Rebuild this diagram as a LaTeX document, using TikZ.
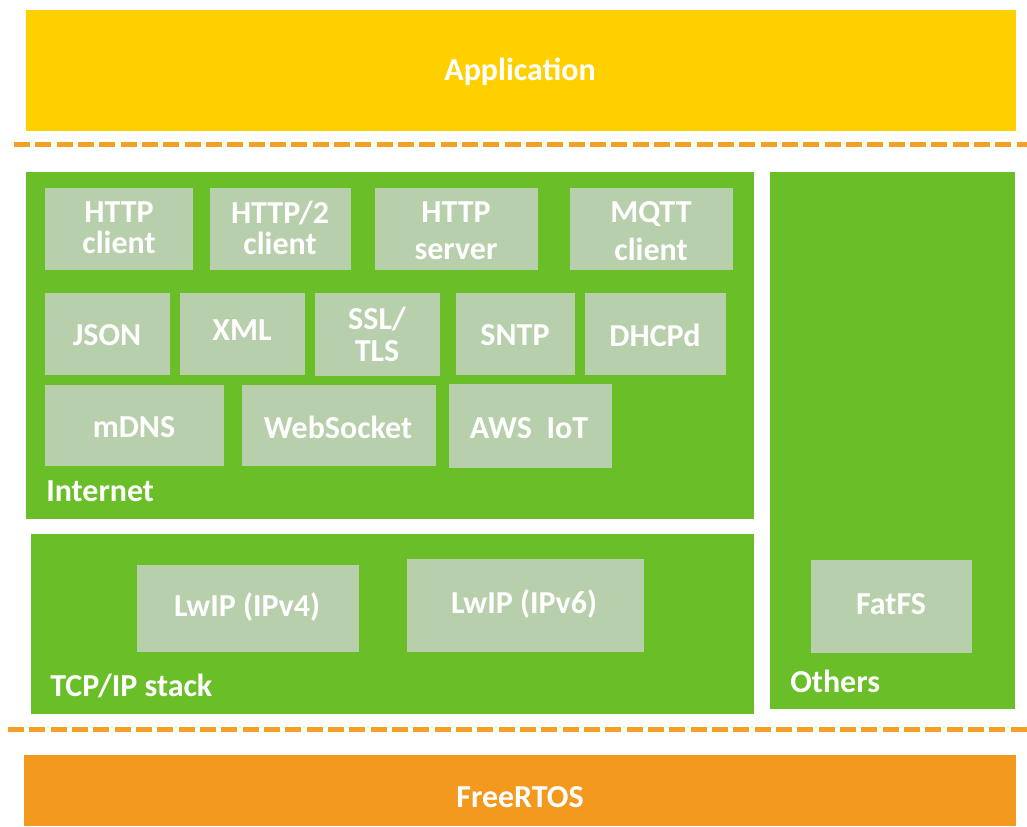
\documentclass[tikz,border=0pt]{standalone}
\usepackage{fontspec}
\setmainfont{Carlito}
\definecolor{appyellow}{RGB}{255,208,0}
\definecolor{rtosorange}{RGB}{243,154,30}
\definecolor{dashorange}{RGB}{244,160,36}
\definecolor{layergreen}{RGB}{106,190,40}
\definecolor{modgreen}{RGB}{184,207,172}

\begin{document}
\begin{tikzpicture}[x=0.75pt,y=0.75pt,yscale=-1,xscale=1,
  lbl/.style={text=white,font=\fontsize{24}{23}\selectfont\bfseries,align=center,inner sep=0pt},
  modbox/.style={fill=modgreen,draw=none},
  layer/.style={fill=layergreen,draw=none},
  sep/.style={dashorange,line width=3.75pt,dash pattern=on 12pt off 4pt}]
\useasboundingbox (0,0) rectangle (1027,826);

%Shape: Rectangle
\fill [appyellow] (26,10) rectangle (1016,131);
%Shape: Rectangle
\fill [rtosorange] (24,755) rectangle (1016,826);

%Straight Lines
\draw [sep] (14,144) -- (1027,144);
%Straight Lines
\draw [sep] (8,729) -- (1027,729);

%Shape: Rectangle
\path [layer] (26,172) rectangle (754,519);
%Shape: Rectangle
\path [layer] (31,534) rectangle (754,714);
%Shape: Rectangle
\path [layer] (770,172) rectangle (1015,709);

%Shape: Rectangle
\path [modbox] (45,188) rectangle (193,270);
\path [modbox] (210,188) rectangle (351,270);
\path [modbox] (375,188) rectangle (538,270);
\path [modbox] (570,188) rectangle (733,270);
\path [modbox] (45,293) rectangle (170,375);
\path [modbox] (180,293) rectangle (305,375);
\path [modbox] (315,293) rectangle (440,376);
\path [modbox] (456,293) rectangle (575,375);
\path [modbox] (585,293) rectangle (726,375);
\path [modbox] (45,385) rectangle (224,466);
\path [modbox] (242,385) rectangle (436,466);
\path [modbox] (449,384) rectangle (612,468);
\path [modbox] (137,565) rectangle (359,652);
\path [modbox] (407,559) rectangle (644,652);
\path [modbox] (811,560) rectangle (972,653);

% Text Node
\draw (520,72) node [lbl] (app) {Application};
% Text Node
\draw (119,228) node [lbl] (httpc) {HTTP\\client};
% Text Node
\draw (280,228) node [lbl] (http2) {HTTP/2\\client};
% Text Node
\draw (456,231) node [lbl] (https) {HTTP\\[5pt]server};
% Text Node
\draw (651,231) node [lbl] (mqtt) {MQTT\\[5pt]client};
% Text Node
\draw (107,335) node [lbl] (json) {JSON};
% Text Node
\draw (242,330) node [lbl] (xml) {XML};
% Text Node
\draw (377,334) node [lbl] (ssl) {SSL/\\[1pt]TLS};
% Text Node
\draw (515,335) node [lbl] (sntp) {SNTP};
% Text Node
\draw (655,335) node [lbl] (dhcp) {DHCPd};
% Text Node
\draw (134,427) node [lbl] (mdns) {mDNS};
% Text Node
\draw (338,427) node [lbl] (ws) {WebSocket};
% Text Node
\draw (529,428) node [lbl] (aws) {AWS\ \ IoT};
% Text Node
\draw (46,491) node [lbl,anchor=west] (inet) {Internet};
% Text Node
\draw (247,607) node [lbl] (lwip4) {LwIP (IPv4)};
% Text Node
\draw (524,604) node [lbl] (lwip6) {LwIP (IPv6)};
% Text Node
\draw (50,686) node [lbl,anchor=west] (tcpip) {TCP/IP stack};
% Text Node
\draw (891,604) node [lbl] (fatfs) {FatFS};
% Text Node
\draw (790,681) node [lbl,anchor=west] (others) {Others};
% Text Node
\draw (520,797) node [lbl] (rtos) {FreeRTOS};

\end{tikzpicture}
\end{document}
